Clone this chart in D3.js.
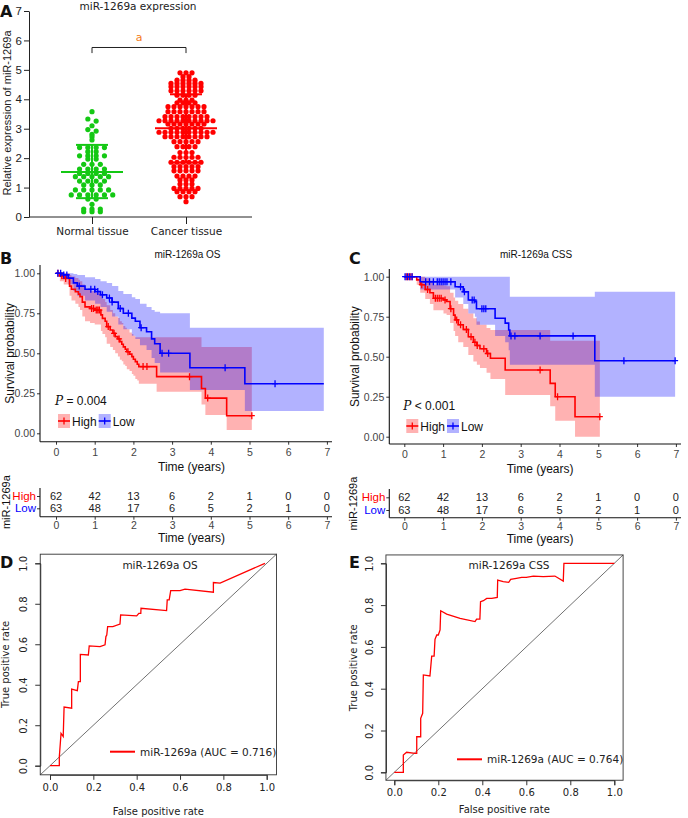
<!DOCTYPE html>
<html><head><meta charset="utf-8">
<script src="https://cdn.jsdelivr.net/npm/d3@7"></script>
<style>body{margin:0;background:#fff}svg{display:block}</style>
</head><body>
<script>
// ---------------- DATA ----------------
// Panel A
const groupsA = ["Normal tissue", "Cancer tissue"];
const yTicksA = [0, 1, 2, 3, 4, 5, 6, 7];
const normalValues = [3.58, 3.33, 3.26, 3.10, 2.97, 2.92, 2.81, 2.73, 2.62,
  2.36, 2.36, 2.36, 2.36, 2.22, 2.22, 2.08, 2.08, 2.08, 2.08, 1.97, 1.97,
  1.79, 1.79, 1.79, 1.63, 1.63, 1.63, 1.63, 1.48, 1.48, 1.48, 1.48,
  1.37, 1.37, 1.37, 1.37, 1.37, 1.22, 1.22, 1.22, 1.22, 1.09, 1.09, 1.09,
  0.92, 0.92, 0.92, 0.92, 0.92, 0.75, 0.75, 0.75, 0.75, 0.75, 0.75,
  0.61, 0.61, 0.43, 0.27, 0.27, 0.27, 0.18, 0.18, 0.18];
const cancerValues = [4.90, 4.90, 4.90, 4.77, 4.77, 4.65, 4.65, 4.65, 4.65,
  4.54, 4.54, 4.54, 4.54, 4.54, 4.54, 4.43, 4.43, 4.43, 4.43, 4.43, 4.43,
  4.29, 4.29, 4.29, 4.29, 4.29, 4.29, 4.14, 4.14, 4.14, 4.14, 3.97, 3.97, 3.97,
  3.88, 3.88, 3.88, 3.88, 3.75, 3.75, 3.75, 3.75, 3.75, 3.75, 3.75,
  3.58, 3.58, 3.58, 3.58, 3.58, 3.58, 3.58, 3.41, 3.41, 3.41, 3.41, 3.41, 3.41, 3.41, 3.41,
  3.27, 3.27, 3.27, 3.27, 3.27, 3.27, 3.27, 3.27, 3.27, 3.27,
  3.16, 3.16, 3.16, 3.16, 3.16, 3.16, 3.16, 3.01, 3.01, 3.01, 3.01, 3.01, 3.01,
  2.88, 2.88, 2.88, 2.88, 2.88, 2.88, 2.88, 2.88, 2.88, 2.88,
  2.73, 2.73, 2.73, 2.73, 2.73, 2.73, 2.73, 2.73, 2.56, 2.56, 2.56, 2.56, 2.56,
  2.39, 2.39, 2.39, 2.39, 2.19, 2.19, 2.19, 2.03, 2.03, 2.03, 2.03, 2.03,
  1.86, 1.86, 1.86, 1.86, 1.86, 1.86, 1.71, 1.71, 1.71, 1.71, 1.71,
  1.57, 1.57, 1.57, 1.57, 1.57, 1.39, 1.39, 1.39, 1.39, 1.26, 1.26, 1.26,
  1.12, 1.12, 1.12, 0.97, 0.97, 0.97, 0.97, 0.97, 0.86, 0.86, 0.86, 0.86,
  0.69, 0.69, 0.69, 0.52];
const normalStats = [0.64, 1.53, 2.45];   // mean-SD, mean, mean+SD
const cancerStats = [1.85, 3.02, 4.17];

// Panels B, C (Kaplan-Meier)
const kmTimeTicks = [0, 1, 2, 3, 4, 5, 6, 7];
const kmSurvTicks = [0, 0.25, 0.5, 0.75, 1];
const riskGroups = ["High", "Low"];
const riskHigh = [62, 42, 13, 6, 2, 1, 0, 0];
const riskLow = [63, 48, 17, 6, 5, 2, 1, 0];

const osHighT  = [0, 0.10, 0.20, 0.35, 0.40, 0.50, 0.58, 0.62, 0.68, 0.75, 0.88, 1.00, 1.16, 1.20, 1.27, 1.31, 1.40, 1.47, 1.53, 1.60, 1.65, 1.70, 1.74, 1.79, 1.83, 1.90, 1.96, 2.00, 2.05, 2.10, 2.14, 2.60, 3.76, 3.86, 4.41];
const osHighS  = [1, 0.984, 0.968, 0.92, 0.90, 0.885, 0.87, 0.854, 0.82, 0.79, 0.78, 0.77, 0.74, 0.718, 0.70, 0.667, 0.646, 0.625, 0.604, 0.59, 0.573, 0.557, 0.54, 0.525, 0.51, 0.495, 0.479, 0.463, 0.448, 0.432, 0.417, 0.354, 0.28, 0.22, 0.11];
const osHighLo = [1, 0.95, 0.93, 0.86, 0.83, 0.81, 0.79, 0.77, 0.73, 0.70, 0.69, 0.68, 0.64, 0.62, 0.60, 0.56, 0.54, 0.52, 0.50, 0.48, 0.46, 0.45, 0.43, 0.42, 0.40, 0.39, 0.37, 0.36, 0.34, 0.33, 0.31, 0.26, 0.18, 0.115, 0.02];
const osHighHi = [1, 1, 1, 0.99, 0.98, 0.97, 0.96, 0.95, 0.93, 0.90, 0.89, 0.88, 0.86, 0.84, 0.82, 0.80, 0.77, 0.75, 0.73, 0.72, 0.70, 0.69, 0.67, 0.66, 0.65, 0.63, 0.62, 0.61, 0.60, 0.60, 0.60, 0.60, 0.54, 0.54, 0.54];
const osHighEnd = 5.06;
const osHighCens = [0.05, 0.15, 0.25, 0.92, 0.97, 1.04, 1.08, 1.12, 1.35, 1.50, 1.63, 1.86, 2.25, 2.35, 3.45, 3.92, 5.06];

const osLowT  = [0, 0.19, 0.32, 0.45, 0.55, 0.75, 1.01, 1.15, 1.31, 1.45, 1.61, 1.74, 1.96, 2.05, 2.17, 2.34, 2.47, 2.55, 2.69, 3.46, 4.88];
const osLowS  = [1, 0.99, 0.97, 0.94, 0.92, 0.90, 0.886, 0.866, 0.846, 0.82, 0.78, 0.75, 0.72, 0.70, 0.66, 0.635, 0.59, 0.56, 0.50, 0.41, 0.31];
const osLowLo = [1, 0.97, 0.93, 0.89, 0.86, 0.83, 0.81, 0.79, 0.76, 0.73, 0.68, 0.65, 0.61, 0.59, 0.55, 0.52, 0.47, 0.44, 0.38, 0.27, 0.14];
const osLowHi = [1, 1, 1, 0.995, 0.99, 0.975, 0.965, 0.95, 0.94, 0.92, 0.89, 0.87, 0.85, 0.84, 0.81, 0.79, 0.77, 0.76, 0.75, 0.66, 0.66];
const osLowEnd = 6.92;
const osLowCens = [0.05, 0.12, 0.20, 0.28, 0.60, 0.90, 1.00, 1.08, 1.20, 1.38, 1.45, 1.66, 1.87, 2.20, 2.74, 2.91, 4.37, 5.66];

const cssHighT  = [0, 0.32, 0.41, 0.54, 0.66, 0.75, 1.01, 1.09, 1.18, 1.27, 1.31, 1.39, 1.52, 1.65, 1.78, 1.87, 1.95, 2.12, 2.22, 2.60, 3.76, 3.89, 4.40];
const cssHighS  = [1, 0.98, 0.95, 0.92, 0.90, 0.865, 0.855, 0.845, 0.80, 0.76, 0.73, 0.70, 0.67, 0.625, 0.59, 0.57, 0.55, 0.52, 0.49, 0.417, 0.333, 0.25, 0.125];
const cssHighLo = [1, 0.95, 0.90, 0.86, 0.83, 0.79, 0.77, 0.76, 0.71, 0.66, 0.63, 0.59, 0.56, 0.51, 0.47, 0.45, 0.43, 0.40, 0.36, 0.26, 0.19, 0.10, 0.0];
const cssHighHi = [1, 1, 1, 0.99, 0.975, 0.95, 0.945, 0.94, 0.90, 0.87, 0.85, 0.83, 0.80, 0.77, 0.74, 0.72, 0.70, 0.68, 0.667, 0.667, 0.60, 0.60, 0.60];
const cssHighEnd = 5.04;
const cssHighCens = [0.05, 0.10, 0.15, 0.20, 0.45, 0.60, 0.80, 0.85, 0.90, 0.95, 1.05, 1.20, 1.35, 1.45, 1.60, 1.72, 1.82, 1.88, 2.05, 2.15, 3.50, 3.95, 5.04];

const cssLowT  = [0, 0.41, 1.31, 1.52, 1.65, 1.82, 1.86, 2.34, 2.60, 2.69, 2.72, 4.91];
const cssLowS  = [1, 0.968, 0.937, 0.906, 0.854, 0.844, 0.80, 0.74, 0.71, 0.667, 0.63, 0.475];
const cssLowLo = [1, 0.92, 0.87, 0.83, 0.77, 0.75, 0.70, 0.63, 0.59, 0.54, 0.45, 0.25];
const cssLowHi = [1, 1, 1, 1, 1, 1, 1, 1, 1, 1, 0.875, 0.906];
const cssLowEnd = 6.98;
const cssLowCens = [0.02, 0.08, 0.14, 0.20, 0.55, 0.65, 0.75, 0.85, 0.90, 0.95, 1.00, 1.05, 1.10, 1.20, 1.45, 1.55, 1.75, 1.80, 2.00, 2.05, 2.10, 2.75, 2.85, 3.50, 4.35, 5.66, 6.98];

// Panels D, E (ROC)
const rocTicks = [0, 0.2, 0.4, 0.6, 0.8, 1.0];
const rocOsFpr = [0, 0.043, 0.043, 0.051, 0.061, 0.065, 0.10, 0.10, 0.126, 0.131, 0.14, 0.14, 0.177, 0.181, 0.231, 0.254, 0.258, 0.262, 0.266, 0.29, 0.323, 0.326, 0.40, 0.41, 0.419, 0.42, 0.538, 0.541, 0.55, 0.557, 0.60, 0.623, 0.754, 0.754, 0.785, 0.992];
const rocOsTpr = [0, 0, 0.044, 0.16, 0.144, 0.29, 0.284, 0.378, 0.371, 0.415, 0.415, 0.55, 0.547, 0.592, 0.588, 0.597, 0.638, 0.646, 0.687, 0.687, 0.70, 0.745, 0.74, 0.753, 0.753, 0.778, 0.766, 0.819, 0.819, 0.865, 0.865, 0.872, 0.857, 0.905, 0.902, 1.0];
const rocCssFpr = [0, 0.041, 0.041, 0.056, 0.094, 0.102, 0.102, 0.12, 0.12, 0.129, 0.132, 0.162, 0.17, 0.181, 0.185, 0.193, 0.20, 0.208, 0.211, 0.238, 0.299, 0.367, 0.374, 0.389, 0.392, 0.405, 0.42, 0.443, 0.468, 0.47, 0.495, 0.52, 0.529, 0.555, 0.579, 0.60, 0.632, 0.677, 0.73, 0.768, 0.771, 0.814, 1.0];
const rocCssTpr = [0, 0, 0.083, 0.096, 0.091, 0.091, 0.17, 0.17, 0.258, 0.282, 0.466, 0.461, 0.556, 0.556, 0.636, 0.657, 0.657, 0.681, 0.773, 0.757, 0.737, 0.721, 0.733, 0.733, 0.816, 0.821, 0.832, 0.832, 0.837, 0.92, 0.912, 0.909, 0.923, 0.928, 0.933, 0.933, 0.939, 0.936, 0.939, 0.915, 1.0, 1.0, 1.0];

// ---------------- DRAWING ----------------
const W = 688, H = 818;
const SANS = "'Liberation Sans', Arial, sans-serif";
const VERD = "'DejaVu Sans', Verdana, sans-serif";
const svg = d3.select("body").append("svg").attr("width", W).attr("height", H);

function label(txt, x, y) {
  svg.append("text").attr("x", x).attr("y", y).text(txt)
    .attr("font-family", "'DejaVu Sans', Arial, sans-serif").attr("font-weight", "bold")
    .attr("font-size", 16).attr("fill", "#111");
}

// ===== Panel A =====
(function () {
  const gA = svg.append("g");
  const y = d3.scaleLinear().domain([0, 7]).range([217, 11]);
  const x = d3.scalePoint().domain(groupsA).range([92, 186]);
  const colors = ["#14c814", "#ff0000"];
  const spacing = [8.3, 6.0];
  const sets = [normalValues, cancerValues];
  const stats = [normalStats, cancerStats];

  const ya = gA.append("g").attr("transform", "translate(29,0)")
    .call(d3.axisLeft(y).tickValues(yTicksA).tickFormat(d3.format("d")).tickSize(5).tickSizeOuter(0));
  ya.select(".domain").attr("stroke", "#222").attr("stroke-width", 1);
  ya.selectAll(".tick line").attr("stroke", "#222");
  ya.selectAll("text").attr("font-family", SANS).attr("font-size", 11.5).attr("fill", "#222").attr("x", -7);

  gA.append("line").attr("x1", 29).attr("x2", 252).attr("y1", 217).attr("y2", 217).attr("stroke", "#222");
  const xa = gA.append("g").attr("transform", "translate(0,217)")
    .call(d3.axisBottom(x).tickSize(7).tickSizeOuter(0));
  xa.select(".domain").remove();
  xa.selectAll(".tick line").attr("stroke", "#222");
  xa.selectAll("text").attr("font-family", VERD).attr("font-size", 10.5).attr("fill", "#222").attr("y", 11);

  gA.append("text").attr("transform", "translate(11,113) rotate(-90)").attr("text-anchor", "middle")
    .attr("font-family", SANS).attr("font-size", 11).attr("fill", "#222").text("Relative expression of miR-1269a");
  gA.append("text").attr("x", 138).attr("y", 10).attr("text-anchor", "middle")
    .attr("font-family", VERD).attr("font-size", 10.5).attr("fill", "#222").text("miR-1269a expression");

  sets.forEach((vals, gi) => {
    const cx = x(groupsA[gi]);
    const sorted = vals.slice().sort((a, b) => b - a);
    const rows = [];
    sorted.forEach(v => {
      const r = rows[rows.length - 1];
      if (r && r[0] - v < 0.075) r.push(v); else rows.push([v]);
    });
    const pts = [];
    rows.forEach(r => r.forEach((v, i) => pts.push({ v, dx: (i - (r.length - 1) / 2) * spacing[gi] })));
    gA.append("g").selectAll("circle").data(pts).join("circle")
      .attr("cx", d => cx + d.dx).attr("cy", d => y(d.v)).attr("r", 2.6).attr("fill", colors[gi]);
    const s = stats[gi];
    const gs = gA.append("g").attr("stroke", colors[gi]).attr("stroke-width", 2);
    gs.append("line").attr("x1", cx - 31).attr("x2", cx + 31).attr("y1", y(s[1])).attr("y2", y(s[1]));
    gs.append("line").attr("x1", cx).attr("x2", cx).attr("y1", y(s[0])).attr("y2", y(s[2]));
    [0, 2].forEach(k => gs.append("line").attr("x1", cx - 16).attr("x2", cx + 16).attr("y1", y(s[k])).attr("y2", y(s[k])));
  });

  // significance bracket
  const by = y(5.76), bt = y(5.57);
  gA.append("path").attr("d", `M${x(groupsA[0])},${bt}V${by}H${x(groupsA[1])}V${bt}`)
    .attr("fill", "none").attr("stroke", "#222").attr("stroke-width", 1);
  gA.append("text").attr("x", (x(groupsA[0]) + x(groupsA[1])) / 2).attr("y", by - 6).attr("text-anchor", "middle")
    .attr("font-family", VERD).attr("font-size", 11).attr("fill", "#f47b20").text("a");
  label("A", 0, 17);
})();

// ===== Panels B, C =====
function drawKM(cfg, series, title, pText) {
  const g = svg.append("g");
  const x = d3.scaleLinear().domain([0, 7]).range([cfg.x0, cfg.x0 + 7 * cfg.xu]);
  const y = d3.scaleLinear().domain([0, 1]).range([cfg.y0, cfg.y1]);

  const build = s => {
    const pts = s.T.map((t, i) => ({ t, s: s.S[i], lo: s.Lo[i], hi: s.Hi[i] }));
    const last = pts[pts.length - 1];
    pts.push({ t: s.end, s: last.s, lo: last.lo, hi: last.hi });
    return pts;
  };
  const area = d3.area().curve(d3.curveStepAfter).x(d => x(d.t)).y0(d => y(d.lo)).y1(d => y(d.hi));
  const line = d3.line().curve(d3.curveStepAfter).x(d => x(d.t)).y(d => y(d.s));
  series.forEach(s => g.append("path").attr("d", area(build(s))).attr("fill", s.color).attr("fill-opacity", 0.3));
  series.forEach(s => {
    g.append("path").attr("d", line(build(s))).attr("fill", "none").attr("stroke", s.color).attr("stroke-width", 1.6);
    const p = d3.path();
    s.cens.forEach(c => {
      const sv = s.S[d3.bisectRight(s.T, c) - 1];
      const cx = x(c), cy = y(sv);
      p.moveTo(cx - 3, cy); p.lineTo(cx + 3, cy);
      p.moveTo(cx, cy - 3.5); p.lineTo(cx, cy + 3.5);
    });
    g.append("path").attr("d", p.toString()).attr("stroke", s.color).attr("stroke-width", 1.3).attr("fill", "none");
  });

  const fmtT = d3.format("d");
  // axes
  const ya = g.append("g").attr("transform", `translate(${cfg.ax},0)`)
    .call(d3.axisLeft(y).tickValues(kmSurvTicks).tickFormat(d3.format(".2f")).tickSize(3));
  ya.select(".domain").remove();
  g.append("line").attr("x1", cfg.ax).attr("x2", cfg.ax).attr("y1", cfg.axTop).attr("y2", cfg.axY).attr("stroke", "#111").attr("stroke-width", 1.1);
  const xa = g.append("g").attr("transform", `translate(0,${cfg.axY})`)
    .call(d3.axisBottom(x).tickValues(kmTimeTicks).tickFormat(fmtT).tickSize(3));
  xa.select(".domain").remove();
  g.append("line").attr("x1", cfg.ax).attr("x2", cfg.axEnd).attr("y1", cfg.axY).attr("y2", cfg.axY).attr("stroke", "#111").attr("stroke-width", 1.1);
  [ya, xa].forEach(a => {
    a.selectAll(".tick line").attr("stroke", "#333");
    a.selectAll("text").attr("font-family", SANS).attr("font-size", 10.5).attr("fill", "#444");
  });
  xa.selectAll("text").attr("y", 7);
  ya.selectAll("text").attr("x", -5);

  g.append("text").attr("x", (x(0) + x(7)) / 2).attr("y", cfg.axY + 29).attr("text-anchor", "middle")
    .attr("font-family", SANS).attr("font-size", 12).attr("fill", "#111").text("Time (years)");
  g.append("text").attr("transform", `translate(${cfg.ylabX},${(y(0) + y(1)) / 2}) rotate(-90)`).attr("text-anchor", "middle")
    .attr("font-family", SANS).attr("font-size", 12).attr("fill", "#111").text("Survival probability");
  g.append("text").attr("x", (x(0) + x(7)) / 2 - 4).attr("y", cfg.titleY).attr("text-anchor", "middle")
    .attr("font-family", SANS).attr("font-size", 10).attr("fill", "#111").text(title);

  // p value
  const pt = g.append("text").attr("x", x(0) - 1).attr("y", cfg.pY)
    .attr("font-family", SANS).attr("font-size", 12).attr("fill", "#111");
  pt.append("tspan").attr("font-style", "italic").attr("font-family", "'DejaVu Serif', serif").text("P");
  pt.append("tspan").text(pText);

  // legend
  let lx = x(0) + 2;
  series.forEach(s => {
    const lg = g.append("g");
    lg.append("rect").attr("x", lx).attr("y", cfg.legY - 7).attr("width", 12).attr("height", 14)
      .attr("fill", s.color).attr("fill-opacity", 0.3);
    lg.append("line").attr("x1", lx).attr("x2", lx + 12).attr("y1", cfg.legY).attr("y2", cfg.legY).attr("stroke", s.color).attr("stroke-width", 1.6);
    lg.append("line").attr("x1", lx + 6).attr("x2", lx + 6).attr("y1", cfg.legY - 3.5).attr("y2", cfg.legY + 3.5).attr("stroke", s.color).attr("stroke-width", 1.3);
    const t = lg.append("text").attr("x", lx + 14).attr("y", cfg.legY + 4.5)
      .attr("font-family", SANS).attr("font-size", 12).attr("fill", "#111").text(s.name);
    lx += 14 + t.node().getComputedTextLength() + 2;
  });

  // risk table
  const r = cfg.risk;
  const ry = d3.scalePoint().domain(riskGroups).range([r.highY, r.lowY]);
  const rows = [riskHigh, riskLow];
  rows.forEach((vals, gi) => {
    g.append("g").selectAll("text").data(vals).join("text")
      .attr("x", (d, i) => x(kmTimeTicks[i])).attr("y", ry(riskGroups[gi]) + 4).attr("text-anchor", "middle")
      .attr("font-family", SANS).attr("font-size", 11).attr("fill", "#222").text(d => d);
  });
  const rya = g.append("g").attr("transform", `translate(${cfg.ax},0)`).call(d3.axisLeft(ry).tickSize(3));
  rya.select(".domain").remove();
  rya.selectAll(".tick line").attr("stroke", "#333");
  rya.selectAll("text").attr("font-family", SANS).attr("font-size", 11.5).attr("x", -4)
    .attr("fill", (d) => d === "High" ? "#ff0000" : "#0000ff");
  g.append("line").attr("x1", cfg.ax).attr("x2", cfg.ax).attr("y1", r.top).attr("y2", r.axY).attr("stroke", "#111").attr("stroke-width", 1.1);
  g.append("line").attr("x1", cfg.ax).attr("x2", cfg.axEnd).attr("y1", r.axY).attr("y2", r.axY).attr("stroke", "#111").attr("stroke-width", 1.1);
  const rxa = g.append("g").attr("transform", `translate(0,${r.axY})`).call(d3.axisBottom(x).tickValues(kmTimeTicks).tickFormat(fmtT).tickSize(3));
  rxa.select(".domain").remove();
  rxa.selectAll(".tick line").attr("stroke", "#333");
  rxa.selectAll("text").attr("font-family", SANS).attr("font-size", 10.5).attr("fill", "#444").attr("y", 5);
  g.append("text").attr("x", (x(0) + x(7)) / 2).attr("y", r.axY + 25).attr("text-anchor", "middle")
    .attr("font-family", SANS).attr("font-size", 12).attr("fill", "#111").text("Time (years)");
  g.append("text").attr("transform", `translate(${cfg.rlabX},${(r.highY + r.lowY) / 2}) rotate(-90)`).attr("text-anchor", "middle")
    .attr("font-family", SANS).attr("font-size", 11).attr("fill", "#111").text("miR-1269a");
}

drawKM({ x0: 56, xu: 38.7, y0: 433.3, y1: 273.3, ax: 40, axTop: 265, axY: 441.7, axEnd: 332, ylabX: 14, rlabX: 10,
  titleY: 258, pY: 405, legY: 421,
  risk: { highY: 496, lowY: 508.3, top: 488, axY: 516.7 } },
  [{ name: "High", color: "#ff0000", T: osHighT, S: osHighS, Lo: osHighLo, Hi: osHighHi, end: osHighEnd, cens: osHighCens },
   { name: "Low", color: "#0000ff", T: osLowT, S: osLowS, Lo: osLowLo, Hi: osLowHi, end: osLowEnd, cens: osLowCens }],
  "miR-1269a OS", " = 0.004");

drawKM({ x0: 404.3, xu: 38.8, y0: 436.7, y1: 276.7, ax: 389.3, axTop: 269, axY: 444, axEnd: 681, ylabX: 359, rlabX: 357,
  titleY: 258, pY: 410, legY: 426,
  risk: { highY: 497.3, lowY: 510, top: 489, axY: 517.7 } },
  [{ name: "High", color: "#ff0000", T: cssHighT, S: cssHighS, Lo: cssHighLo, Hi: cssHighHi, end: cssHighEnd, cens: cssHighCens },
   { name: "Low", color: "#0000ff", T: cssLowT, S: cssLowS, Lo: cssLowLo, Hi: cssLowHi, end: cssLowEnd, cens: cssLowCens }],
  "miR-1269a CSS", " < 0.001");

label("B", 0, 264);
label("C", 349, 264);

// ===== Panels D, E =====
function drawROC(cfg, fpr, tpr, title, legendText) {
  const g = svg.append("g");
  const x = d3.scaleLinear().domain([0, 1]).range([cfg.x0, cfg.x1]);
  const y = d3.scaleLinear().domain([0, 1]).range([cfg.y0, cfg.y1]);
  const [lo, hi] = cfg.ext;
  g.append("rect").attr("x", x(lo)).attr("y", y(hi)).attr("width", x(hi) - x(lo)).attr("height", y(lo) - y(hi))
    .attr("fill", "none").attr("stroke", "#333").attr("stroke-width", 0.9);
  g.append("line").attr("x1", x(lo)).attr("y1", y(lo)).attr("x2", x(hi)).attr("y2", y(hi))
    .attr("stroke", "#333").attr("stroke-width", 0.7);
  const line = d3.line().x((d, i) => x(fpr[i])).y((d, i) => y(tpr[i]));
  g.append("path").attr("d", line(fpr)).attr("fill", "none").attr("stroke", "#ff0000").attr("stroke-width", 1.3);

  const xa = g.append("g").attr("transform", `translate(0,${y(lo)})`).call(d3.axisBottom(x).tickValues(rocTicks).tickFormat(d3.format(".1f")).tickSize(5));
  const ya = g.append("g").attr("transform", `translate(${x(lo)},0)`).call(d3.axisLeft(y).tickValues(rocTicks).tickFormat(d3.format(".1f")).tickSize(5));
  [xa, ya].forEach(a => {
    a.select(".domain").attr("stroke", "#333");
    a.selectAll(".tick line").attr("stroke", "#333");
    a.selectAll("text").attr("font-family", VERD).attr("font-size", 10).attr("fill", "#222");
  });
  xa.selectAll("text").attr("y", 9);
  ya.selectAll("text").attr("transform", "rotate(-90)").attr("x", 0).attr("y", -cfg.yLabOff).attr("dy", 0).attr("text-anchor", "middle");

  g.append("text").attr("x", (x(0) + x(1)) / 2).attr("y", cfg.xTitleY).attr("text-anchor", "middle")
    .attr("font-family", VERD).attr("font-size", 10).attr("fill", "#222").text("False positive rate");
  g.append("text").attr("transform", `translate(${cfg.yTitleX},${(y(0) + y(1)) / 2}) rotate(-90)`).attr("text-anchor", "middle")
    .attr("font-family", VERD).attr("font-size", 10).attr("fill", "#222").text("True positive rate");
  g.append("text").attr("x", cfg.titleX).attr("y", cfg.titleY).attr("text-anchor", "middle")
    .attr("font-family", VERD).attr("font-size", 10.5).attr("fill", "#222").text(title);
  g.append("line").attr("x1", cfg.legX).attr("x2", cfg.legX + 25).attr("y1", cfg.legY).attr("y2", cfg.legY)
    .attr("stroke", "#ff0000").attr("stroke-width", 2);
  g.append("text").attr("x", cfg.legX + 30).attr("y", cfg.legY + 4)
    .attr("font-family", VERD).attr("font-size", 10.5).attr("fill", "#222").text(legendText);
}

drawROC({ x0: 50, x1: 266.7, y0: 765.7, y1: 563.3, ext: [-0.045, 1.045], yLabOff: 13, xTitleY: 815, yTitleX: 9,
  titleX: 160, titleY: 569, legX: 110, legY: 751.7 }, rocOsFpr, rocOsTpr, "miR-1269a OS", "miR-1269a (AUC = 0.716)");
drawROC({ x0: 394.3, x1: 614.3, y0: 772.3, y1: 563.3, ext: [-0.038, 1.04], yLabOff: 13, xTitleY: 813, yTitleX: 357,
  titleX: 509, titleY: 569, legX: 457, legY: 759.3 }, rocCssFpr, rocCssTpr, "miR-1269a CSS", "miR-1269a (AUC = 0.764)");

label("D", 0, 568);
label("E", 349, 568);
</script>
</body></html>
